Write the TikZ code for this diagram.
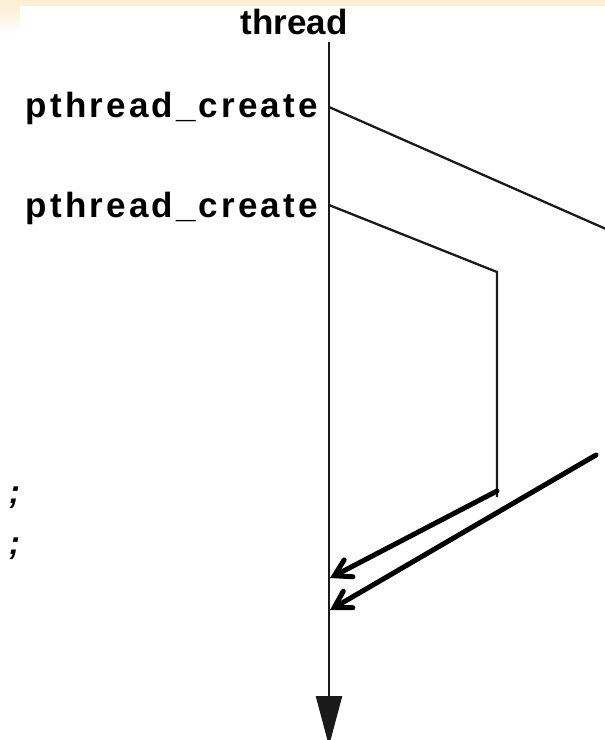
\documentclass[tikz,border=0pt]{standalone}
\usepackage{fontspec}
\setmainfont{Liberation Sans}
\usetikzlibrary{arrows.meta,positioning}
\definecolor{bandc}{HTML}{FBEFD6}
\definecolor{linec}{HTML}{1A1A1A}
\tikzset{
  lbl/.style={font=\fontsize{35}{37}\selectfont\bfseries,inner sep=0pt,anchor=base},
  call/.style={font=\fontsize{35}{37}\selectfont\bfseries\addfontfeature{LetterSpace=9},inner sep=0pt,anchor=base east},
  semi/.style={font=\fontsize{33}{35}\selectfont\bfseries\itshape,inner sep=0pt,anchor=base west},
  tl/.style={draw=linec,line width=2.3pt},
  jn/.style={draw=black,line width=5pt,line cap=round,-{Straight Barb[length=16pt,width=19pt,line cap=round]}},
}
\begin{document}
\begin{tikzpicture}[x=1pt,y=-1pt]
  \useasboundingbox (0,0) rectangle (605,740);
  % beige strip of the slide
  \fill[bandc] (0,0) rectangle (605,6);
  \shade[top color=bandc,bottom color=white] (0,6) rectangle (20,34);
  \node[lbl] (th) at (294,34) {thread};
  \node[call] (pc1) at (318,117) {pthread\_create};
  \node[call] (pc2) at (318,217) {pthread\_create};
  \node[semi] (sc1) at (9,503) {;};
  \node[semi] (sc2) at (9,554) {;};
  % main thread
  \coordinate (m0) at (329,42);
  \coordinate (m1) at (329,107);
  \coordinate (m2) at (329,205);
  \coordinate (mj1) at (330,578);
  \coordinate (mj2) at (330,610);
  \coordinate (mend) at (329,746);
  \draw[tl,-{Triangle[length=50pt,width=26pt]}] (m0) -- (mend);
  % created threads
  \coordinate (a1) at (606,229);
  \coordinate (b1) at (497,272);
  \coordinate (b2) at (497,497);
  \coordinate (a2) at (596,455);
  \coordinate (b3) at (497,491);
  \draw[tl] (m1) -- (a1);
  \draw[tl] (m2) -- (b1) -- (b2);
  \draw[jn] (b3) -- (mj1);
  \draw[jn] (a2) -- (mj2);
\end{tikzpicture}
\end{document}
